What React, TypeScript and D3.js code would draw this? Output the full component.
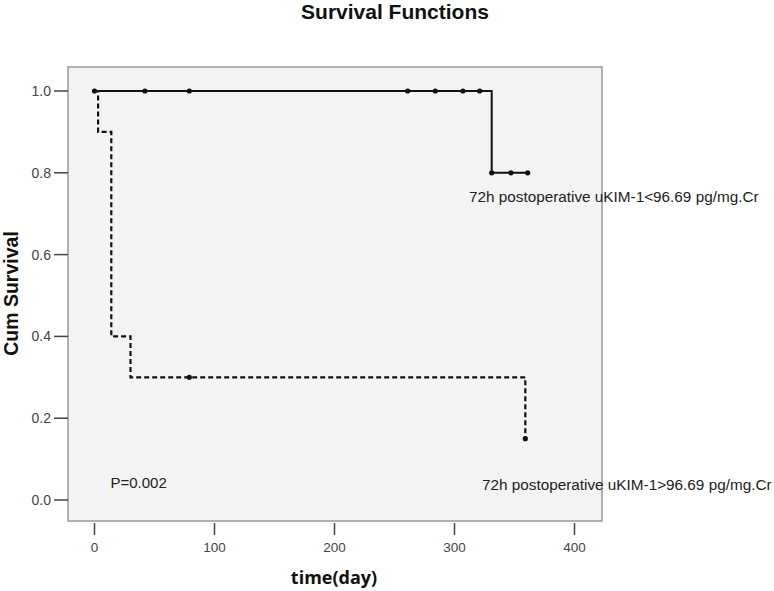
import React from 'react';
import * as d3 from 'd3';

// step curve of the low-uKIM-1 group
const lowTimes = [0, 331, 361];
const lowSurv = [1.0, 0.8, 0.8];
const lowCensorTimes = [0, 42, 79, 261, 284, 307, 321, 331, 347, 361];
const lowCensorSurv = [1.0, 1.0, 1.0, 1.0, 1.0, 1.0, 1.0, 0.8, 0.8, 0.8];

// step curve of the high-uKIM-1 group
const highTimes = [0, 3, 14, 30, 359];
const highSurv = [1.0, 0.9, 0.4, 0.3, 0.15];
const highCensorTimes = [79, 359];
const highCensorSurv = [0.3, 0.15];

const xTicks = [0, 100, 200, 300, 400];
const yTicks = [0.0, 0.2, 0.4, 0.6, 0.8, 1.0];

const lowLabel = '72h postoperative uKIM-1<96.69 pg/mg.Cr';
const highLabel = '72h postoperative uKIM-1>96.69 pg/mg.Cr';

const W = 774;
const H = 591;
const frame = { left: 68, top: 67, right: 602, bottom: 521 };

const App = () => {
  const x = d3.scaleLinear().domain([0, 400]).range([94.5, 574.5]);
  const y = d3.scaleLinear().domain([0, 1]).range([500, 91]);

  const line = d3.line<[number, number]>()
    .x(d => x(d[0]))
    .y(d => y(d[1]))
    .curve(d3.curveStepAfter);

  const lowPts = lowTimes.map((t, i) => [t, lowSurv[i]] as [number, number]);
  const highPts = highTimes.map((t, i) => [t, highSurv[i]] as [number, number]);

  const font = '"Liberation Sans", Arial, sans-serif';

  return (
    <svg width={W} height={H} style={{ position: 'absolute', left: 0, top: 0, background: '#fff' }}>
      <text x={395} y={19} textAnchor="middle" fontFamily={font} fontWeight="bold" fontSize={21} fill="#111">
        Survival Functions
      </text>

      <rect x={frame.left} y={frame.top} width={frame.right - frame.left} height={frame.bottom - frame.top}
        fill="#f3f3f3" stroke="#999" strokeWidth={1.5} />

      {yTicks.map(v => (
        <g key={'y' + v}>
          <line x1={54} x2={frame.left} y1={y(v)} y2={y(v)} stroke="#444" strokeWidth={1.5} />
          <text x={51} y={y(v)} dy="0.35em" textAnchor="end" fontFamily={font} fontSize={14} fill="#444">
            {v.toFixed(1)}
          </text>
        </g>
      ))}
      {xTicks.map(v => (
        <g key={'x' + v}>
          <line x1={x(v)} x2={x(v)} y1={frame.bottom + 2} y2={frame.bottom + 14} stroke="#444" strokeWidth={1.5} />
          <text x={x(v)} y={547} dy="0.35em" textAnchor="middle" fontFamily={font} fontSize={13.5} fill="#444">
            {v}
          </text>
        </g>
      ))}

      <text transform="translate(11.5,293.5) rotate(-90)" textAnchor="middle" dy="0.35em" fontFamily={font}
        fontWeight="bold" fontSize={19.5} fill="#111">
        Cum Survival
      </text>
      <text x={334} y={584} textAnchor="middle" fontFamily='"Open Sans", sans-serif' fontWeight="bold" fontSize={18} fill="#111">
        time(day)
      </text>

      <path d={line(lowPts) || ''} fill="none" stroke="#111" strokeWidth={2} />
      <path d={line(highPts) || ''} fill="none" stroke="#111" strokeWidth={2.2} strokeDasharray="5,3" />

      {lowCensorTimes.map((t, i) => (
        <circle key={'lc' + i} cx={x(t)} cy={y(lowCensorSurv[i])} r={2.6} fill="#111" />
      ))}
      {highCensorTimes.map((t, i) => (
        <circle key={'hc' + i} cx={x(t)} cy={y(highCensorSurv[i])} r={2.6} fill="#111" />
      ))}

      <text x={469} y={197} dy="0.35em" fontFamily={font} fontSize={15.3} fill="#222">{lowLabel}</text>
      <text x={482} y={485} dy="0.35em" fontFamily={font} fontSize={15.3} fill="#222">{highLabel}</text>
      <text x={110.5} y={483} dy="0.35em" fontFamily={font} fontSize={15} fill="#222">P=0.002</text>
    </svg>
  );
};

export default App;
